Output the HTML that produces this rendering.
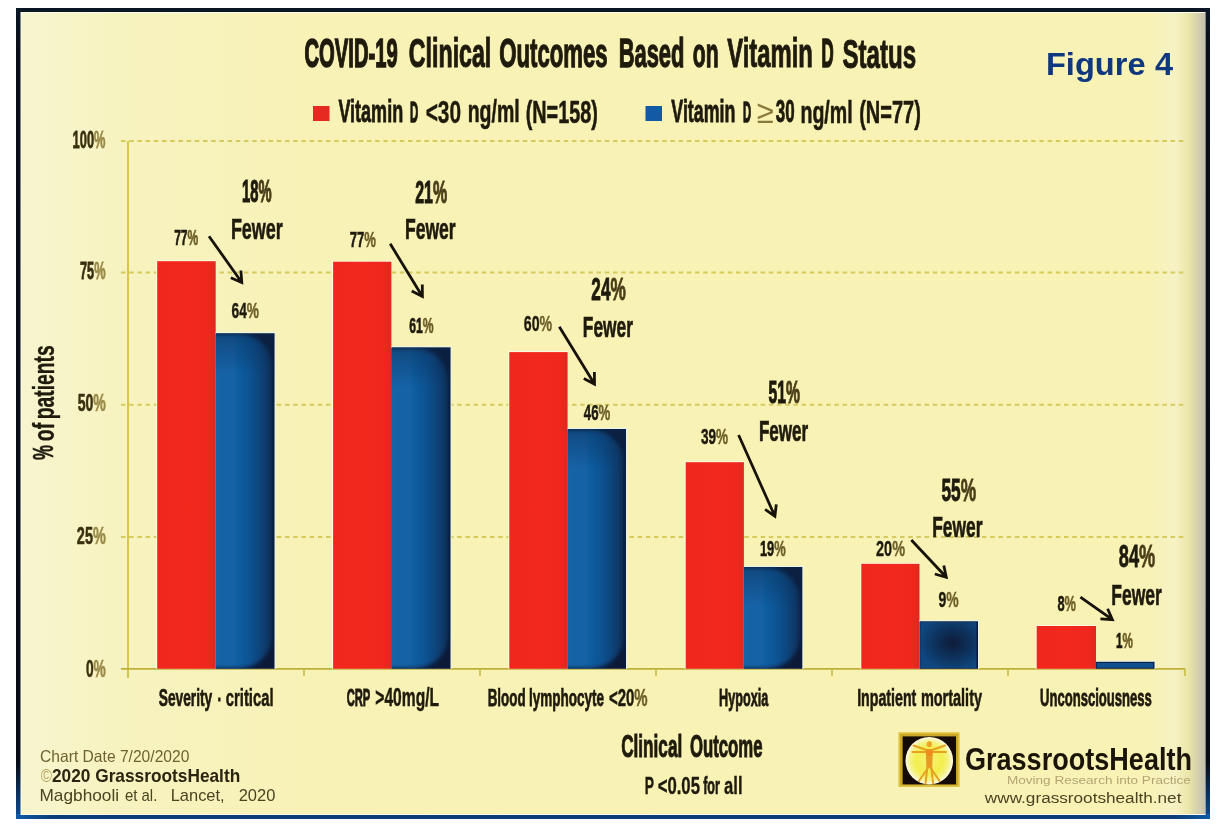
<!DOCTYPE html>
<html>
<head>
<meta charset="utf-8">
<title>COVID-19 Clinical Outcomes Based on Vitamin D Status</title>
<style>
html,body{margin:0;padding:0;background:#ffffff;}
body{width:1224px;height:840px;overflow:hidden;position:relative;}
svg{display:block;position:absolute;left:0;top:0;filter:blur(0.45px);}
text{font-family:"Liberation Sans",Arial,sans-serif;}
.c{font-weight:bold;fill:#1e1a0c;stroke:#1e1a0c;stroke-width:0.6px;}
.g{font-weight:normal;fill:#8a7a3a;}
.cy{font-weight:bold;fill:#3a3010;stroke:#3a3010;stroke-width:0.5px;}
</style>
</head>
<body>
<svg width="1224" height="840" viewBox="0 0 1224 840">
<defs>
  <linearGradient id="frameL" x1="0" y1="0" x2="0" y2="1">
    <stop offset="0" stop-color="#0a1826"/>
    <stop offset="0.05" stop-color="#0a0e1a"/>
    <stop offset="0.93" stop-color="#080c16"/>
    <stop offset="1" stop-color="#0c4e98"/>
  </linearGradient>
  <linearGradient id="frameB" x1="0" y1="0" x2="1" y2="0">
    <stop offset="0" stop-color="#0d5aa8"/>
    <stop offset="0.03" stop-color="#0b3e78"/>
    <stop offset="0.97" stop-color="#0b3e78"/>
    <stop offset="1" stop-color="#0d5aa8"/>
  </linearGradient>
  <linearGradient id="bgG" gradientUnits="userSpaceOnUse" x1="21" y1="0" x2="1205" y2="0">
    <stop offset="0" stop-color="#f7f5cf"/>
    <stop offset="0.08" stop-color="#f7f3c0"/>
    <stop offset="0.25" stop-color="#f8f2b6"/>
    <stop offset="0.95" stop-color="#f8f2b4"/>
    <stop offset="0.975" stop-color="#f6f2c4"/>
    <stop offset="0.986" stop-color="#ebe6a8"/>
    <stop offset="1" stop-color="#c4c0ae"/>
  </linearGradient>
  <linearGradient id="redG" x1="0" y1="0" x2="1" y2="0">
    <stop offset="0" stop-color="#f0271c"/>
    <stop offset="0.5" stop-color="#f2281d"/>
    <stop offset="0.86" stop-color="#f0271c"/>
    <stop offset="1" stop-color="#e0281e"/>
  </linearGradient>
  <linearGradient id="blueIn" x1="0" y1="0" x2="1" y2="0">
    <stop offset="0" stop-color="#1463a6"/>
    <stop offset="0.38" stop-color="#1262a6"/>
    <stop offset="0.66" stop-color="#0e518f"/>
    <stop offset="0.86" stop-color="#0b3f72"/>
    <stop offset="1" stop-color="#0b2f5a"/>
  </linearGradient>
  <linearGradient id="blueTop" x1="0" y1="0" x2="0" y2="1">
    <stop offset="0" stop-color="#0a2a50" stop-opacity="0.45"/>
    <stop offset="1" stop-color="#0a2a50" stop-opacity="0"/>
  </linearGradient>
  <radialGradient id="blueShort" cx="0.58" cy="0.45" r="0.62">
    <stop offset="0" stop-color="#0f1c38"/>
    <stop offset="0.45" stop-color="#0d2f58"/>
    <stop offset="1" stop-color="#0f4880"/>
  </radialGradient>
  <filter id="bl06" x="-20%" y="-20%" width="140%" height="140%"><feGaussianBlur stdDeviation="0.6"/></filter>
  <filter id="bl2" x="-20%" y="-20%" width="140%" height="140%"><feGaussianBlur stdDeviation="2"/></filter>
  <radialGradient id="sun" cx="0.5" cy="0.5" r="0.5">
    <stop offset="0" stop-color="#f6f27a"/>
    <stop offset="0.6" stop-color="#f2ee4c"/>
    <stop offset="0.88" stop-color="#f6f390"/>
    <stop offset="1" stop-color="#fbf9d4"/>
  </radialGradient>
</defs>

<!-- frame -->
<rect x="16" y="8" width="1194" height="811" fill="#0b1624"/>
<rect x="16" y="8" width="5" height="811" fill="url(#frameL)"/>
<rect x="1205" y="8" width="5" height="811" fill="url(#frameL)"/>
<rect x="16" y="814" width="1194" height="5" fill="url(#frameB)"/>
<rect x="20.5" y="12" width="1185" height="803" fill="#fbfbe8"/>
<rect x="21.5" y="13" width="1183.5" height="801" fill="url(#bgG)"/>

<!-- legend swatches -->
<rect x="313" y="106" width="16.5" height="15" fill="#e52a22"/>
<rect x="645.5" y="106" width="16.5" height="15" fill="#125aa6"/>

<!-- gridlines -->
<g stroke="#d6ca5c" stroke-width="2" stroke-dasharray="4.5 3.7">
  <line x1="121" y1="141" x2="1185" y2="141"/>
  <line x1="121" y1="272.6" x2="1185" y2="272.6"/>
  <line x1="121" y1="404.8" x2="1185" y2="404.8"/>
  <line x1="121" y1="537" x2="1185" y2="537"/>
</g>
<!-- axes -->
<line x1="128" y1="141" x2="128" y2="678" stroke="#d0be34" stroke-width="1.7"/>
<line x1="121" y1="668.8" x2="1185" y2="668.8" stroke="#c0b03a" stroke-width="1.8"/>
<g stroke="#c8b83a" stroke-width="1.4">
  <line x1="304" y1="668.8" x2="304" y2="676"/>
  <line x1="480" y1="668.8" x2="480" y2="676"/>
  <line x1="656" y1="668.8" x2="656" y2="676"/>
  <line x1="832" y1="668.8" x2="832" y2="676"/>
  <line x1="1008" y1="668.8" x2="1008" y2="676"/>
  <line x1="1185" y1="668.8" x2="1185" y2="676"/>
</g>

<!-- bars -->
<defs><clipPath id="cb0"><rect x="215.7" y="333.3" width="58.8" height="335.5"/></clipPath><clipPath id="cb1"><rect x="391.4" y="347.4" width="59.1" height="321.4"/></clipPath><clipPath id="cb2"><rect x="567.6" y="429.0" width="58.4" height="239.8"/></clipPath><clipPath id="cb3"><rect x="743.9" y="567.0" width="58.4" height="101.8"/></clipPath></defs>
<rect x="156.2" y="260.2" width="59.5" height="408.6" fill="#fbfae0"/>
<rect x="157.2" y="261.2" width="58.5" height="407.6" fill="url(#redG)"/>
<rect x="215.7" y="332.1" width="60.0" height="336.7" fill="#eaf3e6"/>
<rect x="215.7" y="333.3" width="58.8" height="335.5" fill="#0c1a38"/>
<g clip-path="url(#cb0)"><path d="M210.7,334.3 H239.7 A32.3,32.3 0 0 1 272.0,366.6 V636.0 A32.3,32.3 0 0 1 239.7,668.3 H210.7 Z" fill="url(#blueIn)" filter="url(#bl2)"/><rect x="215.7" y="333.3" width="58.8" height="40.0" fill="url(#blueTop)"/></g>
<rect x="332.1" y="260.7" width="59.3" height="408.1" fill="#fbfae0"/>
<rect x="333.1" y="261.7" width="58.3" height="407.1" fill="url(#redG)"/>
<rect x="391.4" y="346.2" width="60.3" height="322.6" fill="#eaf3e6"/>
<rect x="391.4" y="347.4" width="59.1" height="321.4" fill="#0c1a38"/>
<g clip-path="url(#cb1)"><path d="M386.4,348.4 H415.5 A32.5,32.5 0 0 1 448.0,380.9 V635.8 A32.5,32.5 0 0 1 415.5,668.3 H386.4 Z" fill="url(#blueIn)" filter="url(#bl2)"/><rect x="391.4" y="347.4" width="59.1" height="40.0" fill="url(#blueTop)"/></g>
<rect x="508.3" y="351.1" width="59.3" height="317.7" fill="#fbfae0"/>
<rect x="509.3" y="352.1" width="58.3" height="316.7" fill="url(#redG)"/>
<rect x="567.6" y="427.8" width="59.6" height="241.0" fill="#eaf3e6"/>
<rect x="567.6" y="429.0" width="58.4" height="239.8" fill="#0c1a38"/>
<g clip-path="url(#cb2)"><path d="M562.6,430.0 H591.4 A32.1,32.1 0 0 1 623.5,462.1 V636.2 A32.1,32.1 0 0 1 591.4,668.3 H562.6 Z" fill="url(#blueIn)" filter="url(#bl2)"/><rect x="567.6" y="429.0" width="58.4" height="40.0" fill="url(#blueTop)"/></g>
<rect x="684.7" y="461.2" width="59.2" height="207.6" fill="#fbfae0"/>
<rect x="685.7" y="462.2" width="58.2" height="206.6" fill="url(#redG)"/>
<rect x="743.9" y="565.8" width="59.6" height="103.0" fill="#eaf3e6"/>
<rect x="743.9" y="567.0" width="58.4" height="101.8" fill="#0c1a38"/>
<g clip-path="url(#cb3)"><path d="M738.9,568.0 H767.7 A32.1,32.1 0 0 1 799.8,600.1 V636.2 A32.1,32.1 0 0 1 767.7,668.3 H738.9 Z" fill="url(#blueIn)" filter="url(#bl2)"/><rect x="743.9" y="567.0" width="58.4" height="40.0" fill="url(#blueTop)"/></g>
<rect x="860.3" y="562.8" width="59.2" height="106.0" fill="#fbfae0"/>
<rect x="861.3" y="563.8" width="58.2" height="105.0" fill="url(#redG)"/>
<rect x="919.5" y="620.1" width="59.7" height="48.7" fill="#eaf3e6"/>
<rect x="919.5" y="621.3" width="58.5" height="47.5" fill="#0c1a38"/>
<rect x="920.3" y="622.0999999999999" width="56.2" height="46.2" fill="url(#blueShort)"/>
<rect x="1035.7" y="625.0" width="60.3" height="43.8" fill="#fbfae0"/>
<rect x="1036.7" y="626.0" width="59.3" height="42.8" fill="url(#redG)"/>
<rect x="1096.0" y="660.6" width="59.7" height="8.2" fill="#eaf3e6"/>
<rect x="1096.0" y="661.8" width="58.5" height="7.0" fill="#0c1a38"/>
<rect x="1096.8" y="662.8" width="56.5" height="5.0" fill="#10508e"/>

<!-- arrows -->
<g stroke="#17130a" stroke-width="2.8" fill="none">
<path d="M209,236.2 L241.8,282.5 M240.9,270.5 L241.8,282.5 L230.8,277.7"/>
<path d="M390.2,243.8 L422.4,296.5 M422.3,284.5 L422.4,296.5 L411.7,291.0"/>
<path d="M559.3,326.7 L594.5,384.1 M594.4,372.1 L594.5,384.1 L583.8,378.6"/>
<path d="M738.6,435 L774.9,516.3 M776.3,504.4 L774.9,516.3 L765.1,509.4"/>
<path d="M911.3,540 L946.3,577.3 M943.8,565.5 L946.3,577.3 L934.8,574.0"/>
<path d="M1080.4,597.1 L1112.4,619.7 M1107.6,608.7 L1112.4,619.7 L1100.4,618.8"/>
</g>

<!-- logo -->
<rect x="898.4" y="732.2" width="61.3" height="54.8" fill="#e2c444"/>
<rect x="900" y="733.8" width="58.1" height="51.6" fill="#caa826"/>
<rect x="902.6" y="736.4" width="53.4" height="48" fill="#140b08"/>
<circle cx="929.3" cy="760.7" r="23.8" fill="#fbf9d8"/>
<circle cx="929.3" cy="760.7" r="22.6" fill="url(#sun)"/>
<g filter="url(#bl06)">
<g stroke="#e6a024" stroke-width="2" fill="none" stroke-linecap="round">
  <line x1="912.5" y1="752" x2="946" y2="752"/>
  <line x1="913.5" y1="745.5" x2="929.3" y2="751"/>
  <line x1="945" y1="745.5" x2="929.3" y2="751"/>
  <line x1="929.3" y1="766" x2="919" y2="781"/>
  <line x1="929.3" y1="766" x2="939.6" y2="781"/>
  <line x1="927.5" y1="766" x2="925.5" y2="783.5"/>
  <line x1="931.1" y1="766" x2="933.1" y2="783.5"/>
</g>
<ellipse cx="929.3" cy="744.2" rx="2.6" ry="3" fill="#e8a428"/>
<path d="M925.6,749 L933,749 L932.2,767 L926.4,767 Z" fill="#e89a20"/>
<ellipse cx="929.3" cy="753" rx="3" ry="3" fill="#f08a1c"/>
</g>

<!-- texts -->
<text class="c" x="304.53" y="67.24" font-size="40.09" style="stroke-width:1.53px" textLength="93.11" lengthAdjust="spacingAndGlyphs">COVID-19</text>
<text class="c" x="408.83" y="67.45" font-size="40.69" style="stroke-width:1.11px" textLength="82.49" lengthAdjust="spacingAndGlyphs">Clinical</text>
<text class="c" x="499.24" y="67.37" font-size="40.47" style="stroke-width:1.26px" textLength="108.33" lengthAdjust="spacingAndGlyphs">Outcomes</text>
<text class="c" x="618.66" y="67.37" font-size="40.46" style="stroke-width:1.27px" textLength="65.80" lengthAdjust="spacingAndGlyphs">Based</text>
<text class="c" x="692.78" y="67.36" font-size="40.44" style="stroke-width:1.29px" textLength="25.79" lengthAdjust="spacingAndGlyphs">on</text>
<text class="c" x="727.21" y="67.49" font-size="40.82" style="stroke-width:1.02px" textLength="85.63" lengthAdjust="spacingAndGlyphs">Vitamin</text>
<text class="c" x="821.38" y="67.17" font-size="39.88" style="stroke-width:1.67px" textLength="12.17" lengthAdjust="spacingAndGlyphs">D</text>
<text class="c" x="842.41" y="67.51" font-size="40.88" style="stroke-width:0.98px" textLength="73.68" lengthAdjust="spacingAndGlyphs">Status</text>
<text class="f" x="1045.96" y="75.30" font-size="31.00" font-weight="bold" fill="#10387f" textLength="99.55" lengthAdjust="spacingAndGlyphs">Figure</text>
<text class="f" x="1155.00" y="75.30" font-size="31.00" font-weight="bold" fill="#10387f" textLength="18.09" lengthAdjust="spacingAndGlyphs">4</text>
<text class="c" x="338.41" y="122.39" font-size="31.30" style="stroke-width:0.83px" textLength="64.75" lengthAdjust="spacingAndGlyphs">Vitamin</text>
<text class="c" x="410.11" y="122.07" font-size="30.39" style="stroke-width:1.45px" textLength="8.26" lengthAdjust="spacingAndGlyphs">D</text>
<text class="c" x="425.66" y="122.59" font-size="31.89" style="stroke-width:0.42px" textLength="35.37" lengthAdjust="spacingAndGlyphs">&lt;30</text>
<text class="c" x="467.69" y="122.49" font-size="31.61" style="stroke-width:0.61px" textLength="52.06" lengthAdjust="spacingAndGlyphs">ng/ml</text>
<text class="c" x="525.77" y="122.51" font-size="31.65" style="stroke-width:0.59px" textLength="71.95" lengthAdjust="spacingAndGlyphs">(N=158)</text>
<text class="c" x="671.32" y="122.38" font-size="31.27" style="stroke-width:0.85px" textLength="64.11" lengthAdjust="spacingAndGlyphs">Vitamin</text>
<text class="c" x="743.04" y="122.06" font-size="30.36" style="stroke-width:1.48px" textLength="8.12" lengthAdjust="spacingAndGlyphs">D</text>
<text class="c" x="775.78" y="122.36" font-size="31.21" style="stroke-width:0.89px" textLength="18.86" lengthAdjust="spacingAndGlyphs">30</text>
<text class="c" x="800.48" y="122.50" font-size="31.62" style="stroke-width:0.61px" textLength="52.17" lengthAdjust="spacingAndGlyphs">ng/ml</text>
<text class="c" x="859.14" y="122.52" font-size="31.70" style="stroke-width:0.55px" textLength="61.71" lengthAdjust="spacingAndGlyphs">(N=77)</text>
<text class="g" x="756.82" y="122.80" font-size="32.50" font-weight="bold" textLength="17.03" lengthAdjust="spacingAndGlyphs">≥</text>
<text class="cy" x="72.60" y="147.50" font-size="24.33" style="stroke-width:0.81px" textLength="32.88" lengthAdjust="spacingAndGlyphs">100<tspan fill="#9a8a48" stroke="#9a8a48">%</tspan></text>
<text class="cy" x="80.01" y="279.29" font-size="24.32" style="stroke-width:0.81px" textLength="25.47" lengthAdjust="spacingAndGlyphs">75<tspan fill="#9a8a48" stroke="#9a8a48">%</tspan></text>
<text class="cy" x="77.70" y="411.48" font-size="24.58" style="stroke-width:0.64px" textLength="28.18" lengthAdjust="spacingAndGlyphs">50<tspan fill="#9a8a48" stroke="#9a8a48">%</tspan></text>
<text class="cy" x="76.84" y="544.21" font-size="24.65" style="stroke-width:0.58px" textLength="28.97" lengthAdjust="spacingAndGlyphs">25<tspan fill="#9a8a48" stroke="#9a8a48">%</tspan></text>
<text class="cy" x="85.90" y="676.67" font-size="24.54" style="stroke-width:0.66px" textLength="19.86" lengthAdjust="spacingAndGlyphs">0<tspan fill="#9a8a48" stroke="#9a8a48">%</tspan></text>
<text class="c" x="174.18" y="245.44" font-size="22.47" style="stroke-width:0.71px" textLength="24.03" lengthAdjust="spacingAndGlyphs">77<tspan fill="#6e5f28" stroke="#6e5f28">%</tspan></text>
<text class="c" x="231.52" y="318.05" font-size="22.79" style="stroke-width:0.49px" textLength="27.43" lengthAdjust="spacingAndGlyphs">64<tspan fill="#6e5f28" stroke="#6e5f28">%</tspan></text>
<text class="c" x="349.67" y="247.12" font-size="22.68" style="stroke-width:0.57px" textLength="26.23" lengthAdjust="spacingAndGlyphs">77<tspan fill="#6e5f28" stroke="#6e5f28">%</tspan></text>
<text class="c" x="409.26" y="332.75" font-size="22.50" style="stroke-width:0.69px" textLength="24.36" lengthAdjust="spacingAndGlyphs">61<tspan fill="#6e5f28" stroke="#6e5f28">%</tspan></text>
<text class="c" x="523.77" y="331.18" font-size="22.87" style="stroke-width:0.43px" textLength="28.31" lengthAdjust="spacingAndGlyphs">60<tspan fill="#6e5f28" stroke="#6e5f28">%</tspan></text>
<text class="c" x="583.87" y="420.43" font-size="22.70" style="stroke-width:0.55px" textLength="26.54" lengthAdjust="spacingAndGlyphs">46<tspan fill="#6e5f28" stroke="#6e5f28">%</tspan></text>
<text class="c" x="700.94" y="443.65" font-size="22.77" style="stroke-width:0.51px" textLength="27.20" lengthAdjust="spacingAndGlyphs">39<tspan fill="#6e5f28" stroke="#6e5f28">%</tspan></text>
<text class="c" x="759.89" y="555.70" font-size="22.64" style="stroke-width:0.60px" textLength="25.79" lengthAdjust="spacingAndGlyphs">19<tspan fill="#6e5f28" stroke="#6e5f28">%</tspan></text>
<text class="c" x="876.04" y="556.11" font-size="22.93" style="stroke-width:0.39px" textLength="28.97" lengthAdjust="spacingAndGlyphs">20<tspan fill="#6e5f28" stroke="#6e5f28">%</tspan></text>
<text class="c" x="938.59" y="607.28" font-size="22.86" style="stroke-width:0.44px" textLength="20.19" lengthAdjust="spacingAndGlyphs">9<tspan fill="#6e5f28" stroke="#6e5f28">%</tspan></text>
<text class="c" x="1057.40" y="611.40" font-size="22.64" style="stroke-width:0.59px" textLength="18.49" lengthAdjust="spacingAndGlyphs">8<tspan fill="#6e5f28" stroke="#6e5f28">%</tspan></text>
<text class="c" x="1116.04" y="647.73" font-size="22.43" style="stroke-width:0.74px" textLength="16.86" lengthAdjust="spacingAndGlyphs">1<tspan fill="#6e5f28" stroke="#6e5f28">%</tspan></text>
<text class="c" x="242.09" y="202.29" font-size="30.72" style="stroke-width:1.23px" textLength="29.50" lengthAdjust="spacingAndGlyphs">18<tspan fill="#4a3e18" stroke="#4a3e18">%</tspan></text>
<text class="c" x="415.24" y="202.76" font-size="30.94" style="stroke-width:1.08px" textLength="31.85" lengthAdjust="spacingAndGlyphs">21<tspan fill="#4a3e18" stroke="#4a3e18">%</tspan></text>
<text class="c" x="591.31" y="300.05" font-size="31.19" style="stroke-width:0.90px" textLength="34.48" lengthAdjust="spacingAndGlyphs">24<tspan fill="#4a3e18" stroke="#4a3e18">%</tspan></text>
<text class="c" x="768.51" y="403.45" font-size="30.89" style="stroke-width:1.11px" textLength="31.36" lengthAdjust="spacingAndGlyphs">51<tspan fill="#4a3e18" stroke="#4a3e18">%</tspan></text>
<text class="c" x="941.48" y="500.85" font-size="31.20" style="stroke-width:0.89px" textLength="34.62" lengthAdjust="spacingAndGlyphs">55<tspan fill="#4a3e18" stroke="#4a3e18">%</tspan></text>
<text class="c" x="1118.82" y="567.21" font-size="31.38" style="stroke-width:0.77px" textLength="36.45" lengthAdjust="spacingAndGlyphs">84<tspan fill="#4a3e18" stroke="#4a3e18">%</tspan></text>
<text class="c" x="230.88" y="239.10" font-size="29.43" style="stroke-width:0.60px" textLength="51.98" lengthAdjust="spacingAndGlyphs">Fewer</text>
<text class="c" x="404.94" y="239.47" font-size="29.34" style="stroke-width:0.66px" textLength="50.68" lengthAdjust="spacingAndGlyphs">Fewer</text>
<text class="c" x="582.86" y="336.65" font-size="29.30" style="stroke-width:0.69px" textLength="50.03" lengthAdjust="spacingAndGlyphs">Fewer</text>
<text class="c" x="758.90" y="440.54" font-size="29.25" style="stroke-width:0.73px" textLength="49.28" lengthAdjust="spacingAndGlyphs">Fewer</text>
<text class="c" x="932.26" y="536.76" font-size="29.30" style="stroke-width:0.69px" textLength="50.14" lengthAdjust="spacingAndGlyphs">Fewer</text>
<text class="c" x="1111.25" y="604.56" font-size="29.32" style="stroke-width:0.67px" textLength="50.47" lengthAdjust="spacingAndGlyphs">Fewer</text>
<text class="c" x="158.74" y="706.34" font-size="24.57" style="stroke-width:0.71px" textLength="53.52" lengthAdjust="spacingAndGlyphs">Severity</text>
<text class="c" x="218.07" y="706.19" font-size="24.11" style="stroke-width:1.03px" textLength="2.60" lengthAdjust="spacingAndGlyphs">-</text>
<text class="c" x="225.82" y="706.42" font-size="24.78" style="stroke-width:0.56px" textLength="47.78" lengthAdjust="spacingAndGlyphs">critical</text>
<text class="c" x="346.66" y="706.19" font-size="24.11" style="stroke-width:1.03px" textLength="23.62" lengthAdjust="spacingAndGlyphs">CRP</text>
<text class="c" x="375.34" y="706.47" font-size="24.93" style="stroke-width:0.46px" textLength="63.69" lengthAdjust="spacingAndGlyphs">&gt;40mg/L</text>
<text class="c" x="487.64" y="706.33" font-size="24.52" style="stroke-width:0.75px" textLength="37.95" lengthAdjust="spacingAndGlyphs">Blood</text>
<text class="c" x="528.93" y="706.32" font-size="24.51" style="stroke-width:0.75px" textLength="75.13" lengthAdjust="spacingAndGlyphs">lymphocyte</text>
<text class="c" x="609.00" y="706.43" font-size="24.82" style="stroke-width:0.54px" textLength="38.64" lengthAdjust="spacingAndGlyphs">&lt;20<tspan fill="#6e5f28" stroke="#6e5f28">%</tspan></text>
<text class="c" x="719.04" y="706.27" font-size="24.36" style="stroke-width:0.86px" textLength="49.25" lengthAdjust="spacingAndGlyphs">Hypoxia</text>
<text class="c" x="857.14" y="706.37" font-size="24.66" style="stroke-width:0.65px" textLength="59.21" lengthAdjust="spacingAndGlyphs">Inpatient</text>
<text class="c" x="920.90" y="706.39" font-size="24.71" style="stroke-width:0.62px" textLength="61.10" lengthAdjust="spacingAndGlyphs">mortality</text>
<text class="c" x="1040.00" y="706.29" font-size="24.41" style="stroke-width:0.82px" textLength="111.82" lengthAdjust="spacingAndGlyphs">Unconsciousness</text>
<text class="c" x="621.16" y="757.01" font-size="31.57" style="stroke-width:0.99px" textLength="61.06" lengthAdjust="spacingAndGlyphs">Clinical</text>
<text class="c" x="689.90" y="756.97" font-size="31.47" style="stroke-width:1.05px" textLength="72.59" lengthAdjust="spacingAndGlyphs">Outcome</text>
<text class="c" x="644.78" y="793.76" font-size="23.79" style="stroke-width:0.49px" textLength="9.24" lengthAdjust="spacingAndGlyphs">P</text>
<text class="c" x="657.65" y="793.83" font-size="23.99" style="stroke-width:0.35px" textLength="42.29" lengthAdjust="spacingAndGlyphs">&lt;0.05</text>
<text class="c" x="703.16" y="793.64" font-size="23.47" style="stroke-width:0.71px" textLength="16.76" lengthAdjust="spacingAndGlyphs">for</text>
<text class="c" x="724.12" y="793.83" font-size="23.99" style="stroke-width:0.35px" textLength="18.49" lengthAdjust="spacingAndGlyphs">all</text>
<text class="c" x="-459.95" y="53.49" font-size="28.60" style="stroke-width:0.62px" textLength="14.87" lengthAdjust="spacingAndGlyphs" transform="rotate(-90)">%</text>
<text class="c" x="-441.23" y="53.62" font-size="28.99" style="stroke-width:0.35px" textLength="18.35" lengthAdjust="spacingAndGlyphs" transform="rotate(-90)">of</text>
<text class="c" x="-419.33" y="53.62" font-size="28.99" style="stroke-width:0.35px" textLength="74.14" lengthAdjust="spacingAndGlyphs" transform="rotate(-90)">patients</text>
<text class="n" x="40.07" y="761.90" font-size="16.50" fill="#6e6330" textLength="149.32" lengthAdjust="spacingAndGlyphs">Chart Date 7/20/2020</text>
<text class="n" x="40.80" y="781.50" font-size="18.50" fill="#b9a862" textLength="11.24" lengthAdjust="spacingAndGlyphs">©</text>
<text class="n" x="51.96" y="781.50" font-size="17.80" font-weight="bold" fill="#2a2410" textLength="188.28" lengthAdjust="spacingAndGlyphs">2020 GrassrootsHealth</text>
<text class="n" x="39.45" y="801.40" font-size="17.00" fill="#4a4420" textLength="79.69" lengthAdjust="spacingAndGlyphs">Magbhooli</text>
<text class="n" x="124.93" y="801.40" font-size="17.00" fill="#4a4420" textLength="32.42" lengthAdjust="spacingAndGlyphs">et al.</text>
<text class="n" x="170.72" y="801.40" font-size="17.00" fill="#4a4420" textLength="53.91" lengthAdjust="spacingAndGlyphs">Lancet,</text>
<text class="n" x="238.63" y="801.40" font-size="17.00" fill="#4a4420" textLength="36.68" lengthAdjust="spacingAndGlyphs">2020</text>
<text class="n" x="964.95" y="769.70" font-size="30.50" font-weight="bold" fill="#1a1508" textLength="227.05" lengthAdjust="spacingAndGlyphs">GrassrootsHealth</text>
<text class="n" x="1006.94" y="784.00" font-size="11.00" fill="#b4a474" textLength="183.91" lengthAdjust="spacingAndGlyphs">Moving Research into Practice</text>
<text class="n" x="984.87" y="802.60" font-size="14.00" fill="#4a4422" textLength="196.57" lengthAdjust="spacingAndGlyphs">www.grassrootshealth.net</text>
</svg>
</body>
</html>
